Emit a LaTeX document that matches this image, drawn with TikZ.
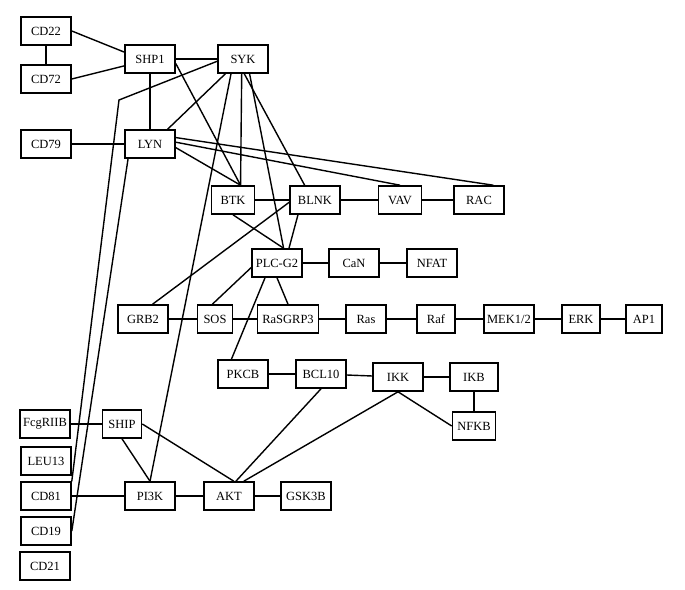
\documentclass[tikz,border=0pt]{standalone}
\usepackage{fontspec}
\setmainfont{Liberation Serif}
\usepackage{tikz}
\usetikzlibrary{positioning}

\begin{document}
\begin{tikzpicture}[x=1pt,y=-1pt,node distance=50pt,
		box/.style={draw,line width=1.6pt,minimum width=50pt,minimum height=28pt,
			inner sep=2pt,font=\fontsize{12.5}{14}\selectfont},
		every edge/.style={draw,line width=1.4pt},
		link/.style={line width=1.4pt}]
		
		\useasboundingbox (0,0) rectangle (685,589);
		
		\node[box] (cd22) at (46,31) {CD22};
		\node[box] (cd72) [below of=cd22, node distance=48pt] {CD72};
		\node[box] (shp1) at (150,59) {SHP1};
		\node[box] (syk) [right of=shp1, node distance=93pt] {SYK};
		\node[box] (cd79) at (46,144) {CD79};
		\node[box] (lyn) [right of=cd79, node distance=104pt] {LYN};
		
		\node[box, minimum width=43pt] (btk) at (233,200) {BTK};
		\node[box] (blnk) [right of=btk, node distance=82pt] {BLNK};
		\node[box, minimum width=43pt] (vav) [right of=blnk, node distance=85pt] {VAV};
		\node[box] (rac) [right of=vav, node distance=79pt] {RAC};
		
		\node[box] (plc) at (277,263) {PLC-G2};
		\node[box] (can) [right of=plc, node distance=77pt] {CaN};
		\node[box] (nfat) [right of=can, node distance=78pt] {NFAT};
		
		\node[box] (grb2) at (143,319) {GRB2};
		\node[box, minimum width=35pt] (sos) [right of=grb2, node distance=72pt] {SOS};
		\node[box, minimum width=61pt] (rasgrp3) [right of=sos, node distance=73pt] {RaSGRP3};
		\node[box, minimum width=40pt] (ras) [right of=rasgrp3, node distance=78pt] {Ras};
		\node[box, minimum width=38pt] (raf) [right of=ras, node distance=70pt] {Raf};
		\node[box] (mek) [right of=raf, node distance=73pt] {MEK1/2};
		\node[box, minimum width=38pt] (erk) [right of=mek, node distance=72pt] {ERK};
		\node[box, minimum width=36pt] (ap1) [right of=erk, node distance=63pt] {AP1};
		
		\node[box] (pkcb) at (243,374) {PKCB};
		\node[box] (bcl10) [right of=pkcb, node distance=78pt] {BCL10};
		\node[box] (ikk) at (398,377) {IKK};
		\node[box, minimum width=48pt] (ikb) [right of=ikk, node distance=76pt] {IKB};
		\node[box, minimum width=43pt] (nfkb) [below of=ikb, node distance=49pt] {NFKB};
		
		\node[box] (fcgriib) at (45,424) {FcgRIIB};
		\node[box, minimum width=39pt] (ship) [right of=fcgriib, node distance=77pt] {SHIP};
		\node[box] (leu13) at (46,461) {LEU13};
		\node[box] (cd81) at (46,496) {CD81};
		\node[box] (pi3k) [right of=cd81, node distance=104pt] {PI3K};
		\node[box] (akt) [right of=pi3k, node distance=79pt] {AKT};
		\node[box] (gsk3b) [right of=akt, node distance=77pt] {GSK3B};
		\node[box] (cd19) at (46,531) {CD19};
		\node[box] (cd21) at (45,566) {CD21};
		
		\coordinate (sykbend) at (119,100);
		\draw[link] (syk.185) -- (sykbend) -- (cd81.north east);
		
		\path
		(cd22.east) edge (shp1.165)
		(cd72.east) edge (shp1.195)
		(cd22) edge (cd72)
		(shp1) edge (syk)
		(shp1.south) edge (lyn.north)
		(cd79) edge (lyn)
		(shp1.350) edge (btk.63)
		(syk.265) edge (btk.63)
		(syk.231) edge (pi3k.north)
		(syk.294) edge (plc.66)
		(syk.275) edge (blnk.125)
		(syk.220) edge (lyn.40)
		(lyn.214) edge (cd19.east)
		(lyn.352) edge (btk.63)
		(lyn.4) edge (vav.north)
		(lyn.14) edge (rac.46)
		(btk) edge (blnk)
		(blnk) edge (vav)
		(vav) edge (rac)
		(btk.south) edge (plc.66)
		(blnk.185) edge (grb2.57)
		(blnk.221) edge (plc.51)
		(plc) edge (can)
		(can) edge (nfat)
		(plc.190) edge (sos.100)
		(plc.south) edge (rasgrp3.north)
		(plc.231) edge (pkcb.128)
		(grb2) edge (sos)
		(sos) edge (rasgrp3)
		(rasgrp3) edge (ras)
		(ras) edge (raf)
		(raf) edge (mek)
		(mek) edge (erk)
		(erk) edge (ap1)
		(pkcb) edge (bcl10)
		(bcl10) edge (ikk)
		(ikk) edge (ikb)
		(ikb) edge (nfkb)
		(ikk.south) edge (nfkb.west)
		(ikk.south) edge (akt.45)
		(bcl10.south) edge (akt.65)
		(fcgriib) edge (ship)
		(ship.south) edge (pi3k.north)
		(ship.east) edge (akt.72)
		(cd81) edge (pi3k)
		(pi3k) edge (akt)
		(akt) edge (gsk3b);
\end{tikzpicture}
\end{document}
